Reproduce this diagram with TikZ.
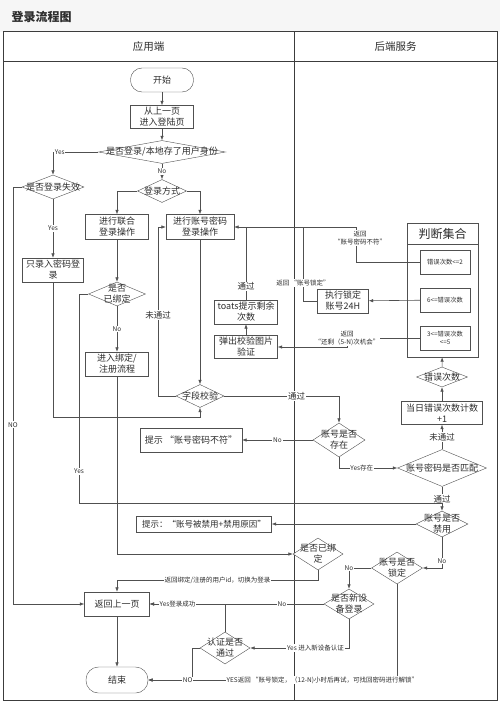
\documentclass[tikz,border=0pt]{standalone}
\usepackage{fontspec}
\setmainfont{Noto Sans CJK SC}
\usepackage{xcolor}
\usetikzlibrary{shapes.geometric,arrows.meta}
\definecolor{LineGray}{RGB}{80,80,80}
\definecolor{FrameGray}{RGB}{60,60,60}
\definecolor{TextDark}{RGB}{45,45,45}
\definecolor{BandGray}{RGB}{246,246,246}

\tikzset{
  procbox/.style 2 args={draw=LineGray, fill=white, minimum width=#1, minimum height=#2,
    inner sep=0pt, align=center, text=TextDark, font=\fontsize{9}{11}\selectfont},
  termbox/.style={draw=LineGray, fill=white, rounded corners=11.5pt, minimum width=63,
    minimum height=24, text=TextDark, font=\fontsize{9}{11}\selectfont},
  decision/.style 2 args={diamond, draw=LineGray, fill=white, minimum width=#1,
    minimum height=#2, inner sep=0pt},
  dtext/.style={font=\fontsize{9}{11}\selectfont, text=TextDark, align=center, inner sep=0pt},
  smallbox/.style={procbox={50}{24}, font=\fontsize{6.3}{8}\selectfont},
  flow/.style={draw=LineGray, line width=0.6pt},
  arr/.style={flow, -{Latex[length=4.5pt,width=3.5pt]}},
  lbl/.style={fill=white, inner sep=0.8pt, text=TextDark, align=center,
    font=\fontsize{6.5}{8}\selectfont},
  passlbl/.style={lbl, font=\fontsize{8.5}{10}\selectfont},
}

\begin{document}
\begin{tikzpicture}[x=1pt, y=-1pt]
  \useasboundingbox (0,0) rectangle (500,703);
  \fill[BandGray] (0,0) rectangle (500,32);
  \node[text=TextDark, font=\fontsize{12}{14}\selectfont\bfseries, anchor=west] (title) at (8,17) {登录流程图};
  \draw[FrameGray, line width=1pt] (3,32) rectangle (497,700);
  \draw[FrameGray, line width=1pt] (3,62) -- (497,62);
  \draw[FrameGray, line width=1pt] (294,32) -- (294,700);
  \node[text=TextDark, font=\fontsize{10.5}{12}\selectfont] (appside) at (148.5,47) {应用端};
  \node[text=TextDark, font=\fontsize{10.5}{12}\selectfont] (serverside) at (395.5,47) {后端服务};

  \node[termbox] (start) at (162,80) {开始};
  \node[procbox={63}{23}] (page) at (162,117) {从上一页\\进入登陆页};
  \node[decision={127}{23}, label={[dtext]center:是否登录/本地存了用户身份}] (chk1) at (162,152) {};
  \node[decision={62}{24}, label={[dtext]center:是否登录失效}] (expire) at (53,187) {};
  \node[procbox={61}{24}] (pwonly) at (53,270) {只录入密码登\\录};
  \node[decision={49}{23}, label={[dtext]center:登录方式}] (mode) at (162,191) {};
  \node[procbox={63}{25}] (union) at (117,227) {进行联合\\登录操作};
  \node[procbox={68}{25}] (acct) at (200,227) {进行账号密码\\登录操作};
  \node[decision={57}{24}, label={[dtext]center:是否\\已绑定}] (bound1) at (117,294) {};
  \node[procbox={63}{24}] (bindflow) at (117,364) {进入绑定/\\注册流程};
  \node[decision={48}{23}, label={[dtext]center:字段校验}] (field) at (200,396) {};
  \node[decision={52}{34}, label={[dtext]center:账号是否\\存在}] (exist) at (339,440) {};
  \node[procbox={102}{24}] (tip1) at (191,440) {提示 “账号密码不符”};
  \node[decision={89}{37}, label={[dtext]center:账号密码是否匹配}] (match) at (442,468) {};
  \node[procbox={81}{23}] (count) at (442,413) {当日错误次数计数\\+1};
  \node[decision={51}{20}, label={[dtext]center:错误次数}] (errs) at (442,377) {};

  \node[draw=LineGray, fill=white, minimum width=71, minimum height=134] (judge) at (442.5,290) {};
  \node[draw=LineGray, minimum width=71, minimum height=21, text=TextDark,
        font=\fontsize{12}{14}\selectfont] (judgetitle) at (442.5,233.5) {判断集合};
  \node[smallbox] (ja) at (445,262) {错误次数<=2};
  \node[smallbox] (jb) at (445,300) {6<=错误次数};
  \node[smallbox] (jc) at (445,338) {3<=错误次数\\<=5};

  \node[procbox={51}{24}] (lock24) at (343,301) {执行锁定\\账号24H};
  \node[procbox={63}{24}] (toast) at (246,312) {toats提示剩余\\次数};
  \node[procbox={63}{23}] (verify) at (246,347) {弹出校验图片\\验证};
  \node[decision={52}{26}, label={[dtext]center:账号是否\\禁用}] (ban) at (442,524) {};
  \node[procbox={135}{16}, font=\fontsize{8.5}{10}\selectfont] (tip2) at (204,524) {提示：“账号被禁用+禁用原因”};
  \node[decision={50}{32}, label={[dtext]center:是否已绑\\定}] (bound2) at (318,554) {};
  \node[decision={51}{32}, label={[dtext]center:账号是否\\锁定}] (lockq) at (397,568) {};
  \node[decision={50}{30}, label={[dtext]center:是否新设\\备登录}] (newdev) at (349,604) {};
  \node[decision={50}{32}, label={[dtext]center:认证是否\\通过}] (auth) at (225,648) {};
  \node[procbox={65}{24}] (back) at (117,604) {返回上一页};
  \node[termbox, minimum width=62, minimum height=26, rounded corners=12.5pt] (end) at (117,680) {结束};

  \draw[arr] (start) -- (page);
  \draw[arr] (page) -- (chk1);
  \draw[arr] (chk1.west) -- node[lbl,pos=0.85]{Yes} (53,152) -- (expire.north);
  \draw[arr] (chk1.south) -- node[lbl]{No} (mode.north);
  \draw[arr] (expire.west) -- (13,187) -- node[lbl,pos=0.57]{NO} (13,604) -- (back.west);
  \draw[arr] (expire.south) -- node[lbl]{Yes} (pwonly.north);
  \draw[arr] (pwonly.south) -- (53,417) -| (field.south);
  \draw[arr] (mode.west) -| (union.north);
  \draw[arr] (mode.east) -| (acct.north);
  \draw[arr] (union) -- (bound1);
  \draw[arr] (bound1.south) -- node[lbl]{No} (bindflow.north);
  \draw[flow] (bound1.west) -- (79,294) -- node[lbl,pos=0.85]{Yes} (79,503) -- (442,503);
  \draw[arr] (bindflow.south) |- (bound2.west);
  \draw[arr] (acct) -- (field);
  \draw[arr] (field.west) -- (158,396) -- node[passlbl,pos=0.48]{未通过} (158,227) -- (acct.west);
  \draw[arr] (field.east) -- node[passlbl,pos=0.63]{通过} (339,396) -- (exist.north);
  \draw[arr] (exist.west) -- node[lbl]{No} (tip1.east);
  \draw[arr] (exist.south) -- (339,468) -- node[lbl,pos=0.39]{Yes存在} (match.west);
  \draw[arr] (match) -- node[passlbl]{未通过} (count);
  \draw[arr] (count) -- (errs);
  \draw[arr] (errs) -- (judge);
  \draw[arr] (ja.west) -- (356,262) -- node[lbl,pos=0.69,xshift=4pt]{返回\\“账号密码不符”} (356,227) -- (acct.east);
  \draw[arr] (jb) -- (lock24);
  \draw[arr] (jc.west) -- (347,338) node[lbl]{返回\\“还剩（5-N)次机会”} -- (347,347) -- (verify.east);
  \draw[flow] (lock24.west) -- (303,301) -- node[lbl,pos=0.24]{返回 “账号锁定”} (303,227);
  \draw[arr] (verify) -- (toast);
  \draw[flow] (toast.north) -- node[passlbl,pos=0.18]{通过} (toast.north |- acct.east);
  \draw[arr] (match) -- node[passlbl]{通过} (ban);
  \draw[arr] (ban.west) -- (tip2.east);
  \draw[arr] (ban.south) -- node[lbl,pos=0.77]{No} (442,568) -- (lockq.east);
  \draw[arr] (lockq.west) -- (349,568) node[lbl]{No} -- (newdev.north);
  \draw[arr] (lockq.south) -- (397,680) -- node[lbl,pos=0.3]{YES返回 “账号锁定，（12-N)小时后再试，可找回密码进行解锁”} (end.east);
  \draw[arr] (bound2.south) -- (318,580) -- node[lbl]{返回绑定/注册的用户id，切换为登录} (117,580) -- (back.north);
  \draw[arr] (newdev.west) -- node[lbl,pos=0.24]{No} (back.east);
  \draw[arr] (auth.north) -- (225,604) -- node[lbl,pos=0.63]{Yes登录成功} (back.east);
  \draw[arr] (newdev.south) -- (349,648) -- node[lbl,pos=0.34]{Yes 进入新设备认证} (auth.east);
  \draw[arr] (auth.west) -- (192,648) -- (192,680) -- node[lbl,pos=0.1]{NO} (end.east);
  \draw[arr] (back) -- (end);
\end{tikzpicture}
\end{document}
